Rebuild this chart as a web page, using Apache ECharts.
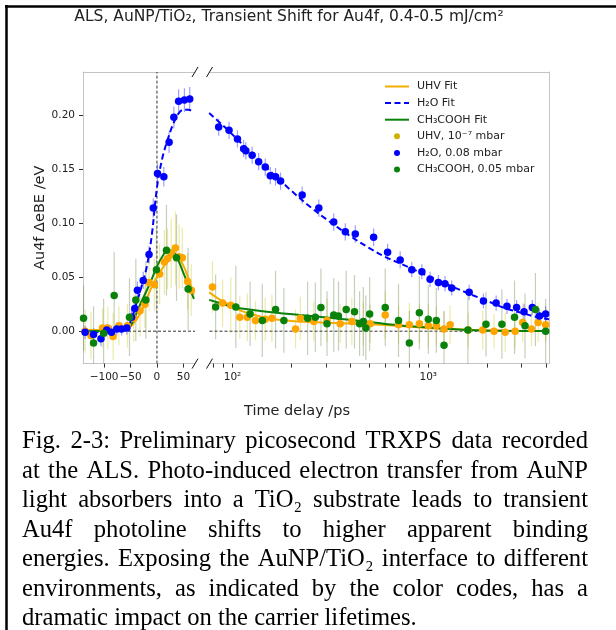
<!DOCTYPE html>
<html>
<head>
<meta charset="utf-8">
<script src="https://cdn.jsdelivr.net/npm/echarts@6/dist/echarts.min.js"></script>
<style>
html, body { margin: 0; padding: 0; background: #fff; }
#chart { width: 616px; height: 630px; }
</style>
</head>
<body>
<div id="chart"></div>
<script>
// ---------- measured transients (time delay in ps, shift in eV, error in eV) ----------
// linear segment (-140 … 72 ps)
const uhvLinT = [-136, -125, -103, -93, -83, -72, -56, -44, -32, -23, -15, -5, 5, 14, 20, 27, 35, 42, 48, 58, 65];
const uhvLinV = [0.000, -0.004, 0.003, 0.003, -0.005, 0.005, 0.005, 0.012, 0.019, 0.025, 0.045, 0.043, 0.053, 0.064, 0.067, 0.072, 0.077, 0.069, 0.068, 0.046, 0.038];
const uhvLinE = [0.020, 0.022, 0.018, 0.020, 0.022, 0.018, 0.020, 0.022, 0.024, 0.022, 0.026, 0.024, 0.028, 0.030, 0.028, 0.032, 0.034, 0.030, 0.028, 0.026, 0.024];

const h2oLinT = [-136, -120, -106, -95, -86, -76, -67, -57, -48, -42, -37, -26, -15, -7, 1, 13, 23, 32, 41, 52, 62];
const h2oLinV = [-0.001, -0.003, -0.007, 0.001, -0.001, 0.002, 0.002, 0.003, 0.013, 0.021, 0.038, 0.047, 0.071, 0.114, 0.146, 0.143, 0.175, 0.198, 0.213, 0.214, 0.215];
const h2oLinE = [0.006, 0.006, 0.007, 0.006, 0.006, 0.006, 0.006, 0.006, 0.007, 0.007, 0.008, 0.008, 0.008, 0.009, 0.009, 0.009, 0.010, 0.010, 0.011, 0.011, 0.011];

const chLinT = [-139, -120, -101, -81, -52, -40, -21, -1, 18, 37, 59];
const chLinV = [0.012, -0.011, -0.002, 0.033, 0.013, 0.029, 0.029, 0.057, 0.075, 0.068, 0.039];
const chLinE = [0.030, 0.034, 0.032, 0.040, 0.036, 0.038, 0.036, 0.040, 0.042, 0.040, 0.038];

// logarithmic segment (76 … 4140 ps)
const uhvLogT = [79, 89, 98, 109, 119, 131, 147, 159, 210, 222, 260, 304, 355, 407, 466, 505, 603, 705, 801, 901, 1001, 1100, 1204, 1294, 1603, 1898, 2168, 2474, 2781, 3038, 3367, 3643, 3980];
const uhvLogV = [0.041, 0.026, 0.024, 0.013, 0.013, 0.010, 0.011, 0.012, 0.002, 0.012, 0.009, 0.010, 0.007, 0.009, 0.007, 0.007, 0.015, 0.006, 0.006, 0.007, 0.005, 0.005, 0.002, 0.006, 0.001, 0.001, 0.000, -0.001, 0.000, 0.008, 0.002, 0.008, 0.006];
const uhvLogE = [0.024, 0.022, 0.026, 0.020, 0.022, 0.018, 0.020, 0.022, 0.018, 0.020, 0.018, 0.020, 0.018, 0.022, 0.020, 0.018, 0.022, 0.018, 0.020, 0.018, 0.020, 0.018, 0.016, 0.018, 0.016, 0.018, 0.016, 0.018, 0.016, 0.018, 0.016, 0.018, 0.016];

const h2oLogT = [85, 96, 106, 114, 117, 126, 136, 147, 156, 166, 176, 227, 276, 329, 377, 424, 526, 620, 719, 824, 928, 1022, 1127, 1218, 1318, 1618, 1915, 2223, 2525, 2828, 3087, 3403, 3700, 3980];
const h2oLogV = [0.189, 0.186, 0.178, 0.169, 0.167, 0.163, 0.157, 0.152, 0.144, 0.143, 0.139, 0.126, 0.114, 0.101, 0.092, 0.090, 0.087, 0.073, 0.066, 0.057, 0.055, 0.048, 0.045, 0.044, 0.040, 0.036, 0.028, 0.026, 0.023, 0.022, 0.018, 0.022, 0.014, 0.016];
const h2oLogE = [0.008, 0.008, 0.008, 0.008, 0.008, 0.008, 0.008, 0.008, 0.008, 0.008, 0.008, 0.008, 0.008, 0.008, 0.008, 0.008, 0.008, 0.008, 0.008, 0.007, 0.007, 0.007, 0.007, 0.007, 0.007, 0.007, 0.007, 0.007, 0.007, 0.007, 0.007, 0.007, 0.007, 0.007];

const chLogT = [82, 104, 123, 142, 166, 183, 242, 265, 283, 304, 329, 348, 381, 420, 446, 466, 480, 502, 603, 705, 801, 901, 1001, 1100, 1204, 1594, 1973, 2379, 2760, 3122, 3529, 3980];
const chLogV = [0.0225, 0.0225, 0.016, 0.010, 0.020, 0.010, 0.012, 0.013, 0.022, 0.007, 0.015, 0.014, 0.020, 0.018, 0.007, 0.009, 0.003, 0.016, 0.022, 0.010, -0.011, 0.017, 0.011, 0.010, -0.013, 0.001, 0.0065, 0.0065, 0.013, 0.005, 0.020, 0.000];
const chLogE = [0.030, 0.038, 0.030, 0.034, 0.036, 0.030, 0.034, 0.032, 0.036, 0.030, 0.034, 0.032, 0.036, 0.034, 0.030, 0.032, 0.030, 0.034, 0.036, 0.034, 0.030, 0.034, 0.032, 0.030, 0.032, 0.036, 0.030, 0.032, 0.034, 0.030, 0.034, 0.030];

// ---------- fitted curves ----------
const fitLinT = [-140, -60, -50, -40, -30, -20, -10, 0, 10, 20, 30, 40, 50, 60, 70];
const fitUhvLinV = [0.001, 0.001, 0.004, 0.010, 0.018, 0.029, 0.041, 0.050, 0.058, 0.065, 0.069, 0.068, 0.061, 0.048, 0.034];
const fitH2oLinV = [-0.001, 0.001, 0.009, 0.024, 0.040, 0.058, 0.088, 0.133, 0.160, 0.177, 0.191, 0.201, 0.205, 0.205, 0.202];
const fitChLinV = [0.000, 0.001, 0.005, 0.015, 0.027, 0.037, 0.048, 0.060, 0.069, 0.075, 0.074, 0.066, 0.054, 0.042, 0.030];

const fitUhvLogT = [76, 85, 95, 110, 130, 150, 200, 250, 330, 500, 700, 1000, 1500, 2000, 3000, 4140];
const fitUhvLogV = [0.036, 0.030, 0.025, 0.019, 0.015, 0.012, 0.0095, 0.0085, 0.0075, 0.0065, 0.005, 0.003, 0.0015, 0.0008, 0.0003, 0.0001];
const fitH2oLogT = [76, 90, 100, 120, 150, 200, 250, 300, 400, 500, 600, 800, 1000, 1300, 1600, 2000, 2500, 3000, 3600, 4140];
const fitH2oLogV = [0.202, 0.190, 0.182, 0.168, 0.151, 0.130, 0.115, 0.104, 0.088, 0.077, 0.069, 0.059, 0.051, 0.042, 0.035, 0.028, 0.021, 0.017, 0.013, 0.011];
const fitChLogT = [76, 90, 100, 150, 220, 330, 500, 700, 1000, 1600, 2500, 4140];
const fitChLogV = [0.029, 0.025, 0.0225, 0.018, 0.015, 0.012, 0.0085, 0.0055, 0.0035, 0.0012, 0.0004, 0.0001];

// ---------- axis ranges and ticks ----------
const linRange = [-140, 72];
const logRange = [76.3, 4140];
const yRange = [-0.03, 0.24];
const linTicks = [-100, -50, 0, 50];
const logMajor = [100, 1000];
const logMinor = [80, 90, 100, 200, 300, 400, 500, 600, 700, 800, 900, 1000, 2000, 3000, 4000];
const yTicks = [0, 0.05, 0.10, 0.15, 0.20];

const titleText = 'ALS, AuNP/TiO\u2082, Transient Shift for Au4f, 0.4-0.5 mJ/cm\u00b2';
const xName = 'Time delay /ps';
const yName = 'Au4f \u0394eBE /eV';
const names = {
  uhvFit: 'UHV Fit', h2oFit: 'H\u2082O Fit', chFit: 'CH\u2083COOH Fit',
  uhv: 'UHV, 10\u207b\u2077 mbar', h2o: 'H\u2082O, 0.08 mbar', ch: 'CH\u2083COOH, 0.05 mbar'
};
const captionLines = [
  'Fig. 2-3: Preliminary picosecond TRXPS data recorded',
  'at the ALS. Photo-induced electron transfer from AuNP',
  'light absorbers into a TiO\u2082 substrate leads to transient',
  'Au4f photoline shifts to higher apparent binding',
  'energies. Exposing the AuNP/TiO\u2082 interface to different',
  'environments, as indicated by the color codes, has a',
  'dramatic impact on the carrier lifetimes.'
];

// ---------- styling ----------
const C = { uhv: '#ffa500', uhvFit: '#f2ad00', h2o: '#0000ff', ch: '#0a820a',
            uhvErr: 'rgba(200,195,0,0.35)', h2oErr: 'rgba(40,40,255,0.45)', chErr: 'rgba(90,120,60,0.35)' };
const FONT = 'DejaVu Sans';
const gridL = { left: 83, top: 72, width: 112, height: 291.6 };
const gridR = { left: 209.5, top: 72, width: 339.5, height: 291.6 };

const zip = (T, V) => T.map((t, i) => [t, V[i]]);

function fitSeries(name, T, V, xi, yi, color, dashed) {
  return {
    type: 'line', name, xAxisIndex: xi, yAxisIndex: yi, data: zip(T, V),
    symbol: 'none', smooth: 0.35, z: 3, silent: true,
    lineStyle: { color, width: 2, type: dashed ? [6, 3.5] : 'solid' },
    itemStyle: { color }
  };
}
function errSeries(T, V, E, xi, yi, color) {
  return {
    type: 'custom', xAxisIndex: xi, yAxisIndex: yi, clip: true, silent: true, z: 2,
    data: T.map((t, i) => [t, V[i], E[i]]),
    encode: { x: 0, y: 1 },
    renderItem: (params, api) => {
      const x = api.value(0), y = api.value(1), e = api.value(2);
      const a = api.coord([x, y + e]), b = api.coord([x, y - e]);
      return { type: 'line', shape: { x1: a[0], y1: a[1], x2: b[0], y2: b[1] },
               style: { stroke: color, lineWidth: 1.2 } };
    }
  };
}
function dotSeries(name, T, V, xi, yi, color, z) {
  return {
    type: 'scatter', name, xAxisIndex: xi, yAxisIndex: yi, data: zip(T, V),
    symbol: 'circle', symbolSize: 7.5, z, silent: true, itemStyle: { color, opacity: 1 }
  };
}
function refLine(data, xi, yi) {
  return {
    type: 'line', xAxisIndex: xi, yAxisIndex: yi, data, symbol: 'none', silent: true, z: 1,
    lineStyle: { color: '#333', width: 1, type: [3, 2] }
  };
}

const spine = { show: true, onZero: false, lineStyle: { color: '#c4c4c4', width: 1 } };
const tickStyle = { show: true, inside: false, length: 4, lineStyle: { color: '#333', width: 1 } };
const labelStyle = { color: '#222', fontSize: 10.5, fontFamily: FONT };

const chart = echarts.init(document.getElementById('chart'), null, { renderer: 'canvas' });

// break markers and frame
const graphics = [];
[gridL.left + gridL.width, gridR.left].forEach(x => {
  [gridL.top, gridL.top + gridL.height].forEach(y => {
    graphics.push({ type: 'line', shape: { x1: x - 3, y1: y + 5, x2: x + 3, y2: y - 5 },
                    style: { stroke: '#111', lineWidth: 1 }, z: 10 });
  });
});
graphics.push({ type: 'line', shape: { x1: 5, y1: 6.5, x2: 616, y2: 6.5 }, style: { stroke: '#000', lineWidth: 2.5 } });
graphics.push({ type: 'line', shape: { x1: 6.5, y1: 5, x2: 6.5, y2: 630 }, style: { stroke: '#000', lineWidth: 2.5 } });

// shared x-axis caption under both segments
graphics.push({ type: 'text', x: 297, y: 411,
  style: { text: xName, font: '14.5px "DejaVu Sans"', fill: '#222', align: 'center', verticalAlign: 'middle' } });

// justified figure caption
const capFont = '24.6px "Liberation Serif"';
const capLeft = 22, capRight = 588, capTop = 442, capStep = 29.5;
const mctx = document.createElement('canvas').getContext('2d');
mctx.font = capFont;
captionLines.forEach((line, li) => {
  const words = line.split(' ');
  const widths = words.map(w => mctx.measureText(w).width);
  const total = widths.reduce((a, b) => a + b, 0);
  const last = li === captionLines.length - 1;
  const gap = last ? mctx.measureText(' ').width : (capRight - capLeft - total) / (words.length - 1);
  let x = capLeft;
  words.forEach((w, wi) => {
    graphics.push({ type: 'text', x, y: capTop + li * capStep,
      style: { text: w, font: capFont, fill: '#000', align: 'left', verticalAlign: 'middle' } });
    x += widths[wi] + gap;
  });
});

// chart title, centred over the plotting area
graphics.push({ type: 'text', x: 289, y: 17,
  style: { text: titleText, font: '15.5px "DejaVu Sans"', fill: '#222', align: 'center', verticalAlign: 'middle' } });

const option = {
  animation: false,
  backgroundColor: '#fff',
  grid: [
    Object.assign({ containLabel: false }, gridL),
    Object.assign({ containLabel: false }, gridR)
  ],
  xAxis: [
    { type: 'value', gridIndex: 0, min: linRange[0], max: linRange[1], position: 'bottom',
      axisLine: spine, splitLine: { show: false },
      axisTick: Object.assign({ customValues: linTicks }, tickStyle),
      axisLabel: Object.assign({ customValues: linTicks, margin: 8,
        formatter: v => String(v).replace('-', '\u2212') }, labelStyle) },
    { type: 'value', gridIndex: 0, min: linRange[0], max: linRange[1], position: 'top',
      axisLine: spine, axisTick: { show: false }, axisLabel: { show: false }, splitLine: { show: false } },
    { type: 'log', logBase: 10, gridIndex: 1, min: logRange[0], max: logRange[1], position: 'bottom',
      axisLine: spine, splitLine: { show: false }, minorTick: { show: false },
      axisTick: Object.assign({ customValues: logMinor }, tickStyle),
      axisLabel: Object.assign({ customValues: logMajor, margin: 8,
        formatter: v => '10' + (Math.round(Math.log10(v)) === 2 ? '\u00b2' : '\u00b3') }, labelStyle) },
    { type: 'log', logBase: 10, gridIndex: 1, min: logRange[0], max: logRange[1], position: 'top',
      axisLine: spine, axisTick: { show: false }, axisLabel: { show: false }, splitLine: { show: false } }
  ],
  yAxis: [
    { type: 'value', gridIndex: 0, min: yRange[0], max: yRange[1], position: 'left',
      axisLine: spine, splitLine: { show: false },
      axisTick: Object.assign({ customValues: yTicks }, tickStyle),
      axisLabel: Object.assign({ customValues: yTicks, margin: 8, formatter: v => v.toFixed(2) }, labelStyle),
      name: yName, nameLocation: 'middle', nameGap: 34,
      nameTextStyle: { fontFamily: FONT, fontSize: 14.5, color: '#222' } },
    { type: 'value', gridIndex: 1, min: yRange[0], max: yRange[1], position: 'right',
      axisLine: spine, axisTick: { show: false }, axisLabel: { show: false }, splitLine: { show: false } }
  ],
  legend: {
    orient: 'vertical', left: 379, top: 76, itemWidth: 24, itemHeight: 6, itemGap: 5.6,
    textStyle: { fontFamily: FONT, fontSize: 11, color: '#222', padding: [0, 0, 0, 3] },
    selectedMode: false,
    data: [
      { name: names.uhvFit, itemStyle: { opacity: 0 } },
      { name: names.h2oFit, itemStyle: { opacity: 0 } },
      { name: names.chFit, itemStyle: { opacity: 0 } },
      { name: names.uhv, icon: 'circle', itemStyle: { color: '#d2b000' } },
      { name: names.h2o, icon: 'circle' },
      { name: names.ch, icon: 'circle' }
    ]
  },
  graphic: graphics,
  series: [
    refLine([[linRange[0], 0], [linRange[1], 0]], 0, 0),
    refLine([[logRange[0], 0], [logRange[1], 0]], 2, 1),
    refLine([[0, yRange[0]], [0, yRange[1]]], 0, 0),

    errSeries(uhvLinT, uhvLinV, uhvLinE, 0, 0, C.uhvErr),
    errSeries(uhvLogT, uhvLogV, uhvLogE, 2, 1, C.uhvErr),
    errSeries(h2oLinT, h2oLinV, h2oLinE, 0, 0, C.h2oErr),
    errSeries(h2oLogT, h2oLogV, h2oLogE, 2, 1, C.h2oErr),
    errSeries(chLinT, chLinV, chLinE, 0, 0, C.chErr),
    errSeries(chLogT, chLogV, chLogE, 2, 1, C.chErr),

    fitSeries(names.uhvFit, fitLinT, fitUhvLinV, 0, 0, C.uhvFit, false),
    fitSeries(names.uhvFit, fitUhvLogT, fitUhvLogV, 2, 1, C.uhvFit, false),
    fitSeries(names.h2oFit, fitLinT, fitH2oLinV, 0, 0, C.h2o, true),
    fitSeries(names.h2oFit, fitH2oLogT, fitH2oLogV, 2, 1, C.h2o, true),
    fitSeries(names.chFit, fitLinT, fitChLinV, 0, 0, C.ch, false),
    fitSeries(names.chFit, fitChLogT, fitChLogV, 2, 1, C.ch, false),

    dotSeries(names.uhv, uhvLinT, uhvLinV, 0, 0, C.uhv, 4),
    dotSeries(names.uhv, uhvLogT, uhvLogV, 2, 1, C.uhv, 4),
    dotSeries(names.h2o, h2oLinT, h2oLinV, 0, 0, C.h2o, 5),
    dotSeries(names.h2o, h2oLogT, h2oLogV, 2, 1, C.h2o, 5),
    dotSeries(names.ch, chLinT, chLinV, 0, 0, C.ch, 6),
    dotSeries(names.ch, chLogT, chLogV, 2, 1, C.ch, 6)
  ]
};
chart.setOption(option);
</script>
</body>
</html>
